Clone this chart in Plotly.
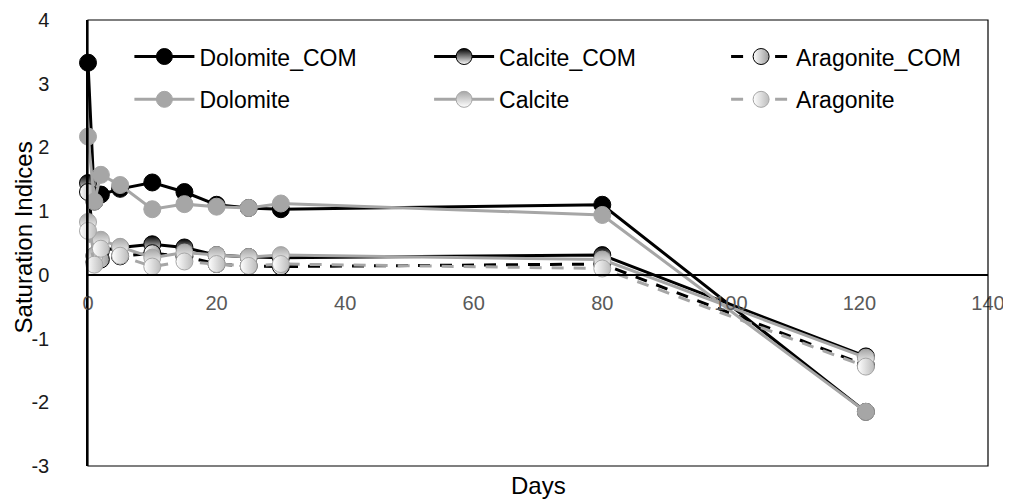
import plotly.graph_objects as go

days = [0, 1, 2, 5, 10, 15, 20, 25, 30, 80, 121]

dolomite_com = [3.33, 1.15, 1.26, 1.35, 1.45, 1.30, 1.10, 1.05, 1.03, 1.10, -2.15]
calcite_com = [1.44, 0.30, 0.38, 0.43, 0.48, 0.43, 0.31, 0.28, 0.27, 0.31, -1.28]
aragonite_com = [1.30, 0.20, 0.24, 0.29, 0.34, 0.29, 0.17, 0.14, 0.13, 0.17, -1.42]
dolomite = [2.17, 1.15, 1.57, 1.41, 1.03, 1.11, 1.07, 1.05, 1.12, 0.94, -2.15]
calcite = [0.83, 0.30, 0.55, 0.44, 0.27, 0.35, 0.31, 0.28, 0.31, 0.24, -1.30]
aragonite = [0.69, 0.16, 0.41, 0.30, 0.13, 0.21, 0.17, 0.14, 0.17, 0.10, -1.44]

x_ticks = [0, 20, 40, 60, 80, 100, 120, 140]
y_ticks = [-3, -2, -1, 0, 1, 2, 3, 4]

BLACK = "#000000"
GREY = "#A6A6A6"
FONT = "Liberation Sans, Arial, sans-serif"

fig = go.Figure()

def add(name, y, color, dash, marker, legend):
    fig.add_trace(go.Scatter(
        x=days, y=y, name=name, mode="lines+markers",
        line=dict(color=color, width=3, dash=dash),
        marker=marker, legend=legend, cliponaxis=False,
    ))

add("Dolomite_COM", dolomite_com, BLACK, "solid",
    dict(size=17, color=BLACK, line=dict(color=BLACK, width=1)), "legend")
add("Calcite_COM", calcite_com, BLACK, "solid",
    dict(size=17, color=BLACK, gradient=dict(type="vertical", color="#FFFFFF"),
         line=dict(color=BLACK, width=1)), "legend2")
add("Aragonite_COM", aragonite_com, BLACK, "12px,10px",
    dict(size=17, color="#FFFFFF", gradient=dict(type="horizontal", color="#9A9A9A"),
         line=dict(color=BLACK, width=1)), "legend3")
add("Dolomite", dolomite, GREY, "solid",
    dict(size=17, color=GREY, line=dict(color=GREY, width=1)), "legend4")
add("Calcite", calcite, GREY, "solid",
    dict(size=17, color=GREY, gradient=dict(type="vertical", color="#FFFFFF"),
         line=dict(color=GREY, width=1)), "legend5")
add("Aragonite", aragonite, GREY, "12px,10px",
    dict(size=17, color="#FFFFFF", gradient=dict(type="horizontal", color="#BBBBBB"),
         line=dict(color=GREY, width=1)), "legend6")

def leg(x, y):
    return dict(
        x=x, y=y, orientation="h", xanchor="left", yanchor="middle",
        font=dict(family=FONT, size=23, color="#000000"),
        bgcolor="rgba(0,0,0,0)", itemwidth=60,
    )

cols = [0.046, 0.379, 0.709]
rows = [0.918, 0.822]

fig.update_layout(
    width=1003, height=491,
    margin=dict(l=80, r=23, t=12, b=33, autoexpand=False),
    paper_bgcolor="white", plot_bgcolor="white",
    font=dict(family=FONT, size=20, color="#000000"),
    showlegend=True,
    legend=leg(cols[0], rows[0]),
    legend2=leg(cols[1], rows[0]),
    legend3=leg(cols[2], rows[0]),
    legend4=leg(cols[0], rows[1]),
    legend5=leg(cols[1], rows[1]),
    legend6=leg(cols[2], rows[1]),
    xaxis=dict(
        range=[0, 140], tickvals=x_ticks, ticktext=[str(v) for v in x_ticks],
        anchor="free", position=3 / 7, showline=True, linecolor=BLACK, linewidth=2,
        showgrid=False, zeroline=False, ticks="", automargin=False,
        ticklabelstandoff=10,
        tickfont=dict(family=FONT, size=20, color="#595959"),
    ),
    yaxis=dict(
        range=[-3, 4], tickvals=y_ticks, ticktext=[str(v) for v in y_ticks],
        showline=True, linecolor=BLACK, linewidth=1.5,
        showgrid=False, zeroline=False, ticks="", automargin=False,
        ticklabelstandoff=33,
        tickfont=dict(family=FONT, size=20, color="#1A1A1A"),
    ),
    shapes=[dict(type="rect", xref="paper", yref="paper", x0=0, x1=1, y0=0, y1=1,
                 line=dict(color=BLACK, width=1.2), fillcolor="rgba(0,0,0,0)", layer="above")],
    annotations=[
        dict(text="Days", xref="paper", yref="paper", x=0.5, y=-0.043,
             xanchor="center", yanchor="middle", showarrow=False,
             font=dict(family=FONT, size=24, color="#000000")),
        dict(text="Saturation Indices", xref="paper", yref="paper", x=-0.072, y=0.513,
             xanchor="center", yanchor="middle", textangle=-90, showarrow=False,
             font=dict(family=FONT, size=24, color="#000000")),
    ],
)

fig.write_html("out.html")
